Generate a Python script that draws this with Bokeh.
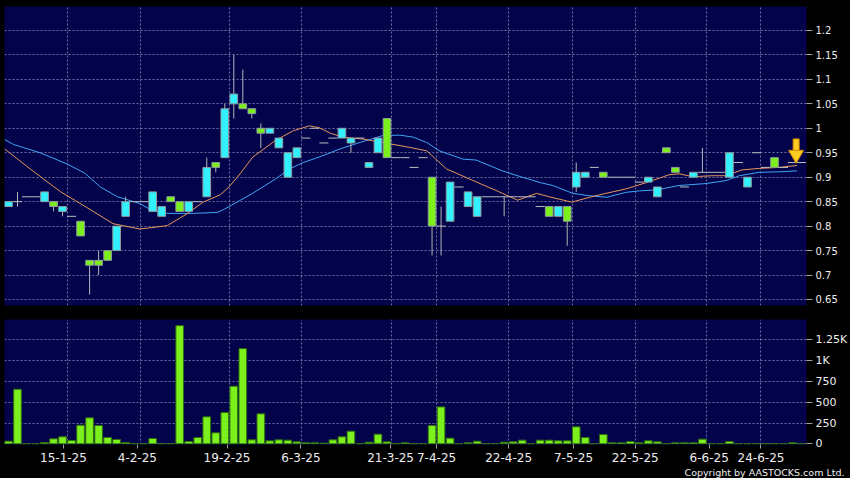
from bokeh.plotting import figure
from bokeh.layouts import column
from bokeh.models import (Range1d, FixedTicker, NumeralTickFormatter,
                          CustomJSTickFormatter, Title)
from bokeh.embed import file_html
from bokeh.resources import INLINE

# ---------------- data ----------------
opens = [0.84, 0.85, 0.86, 0.86, 0.85, 0.85, 0.83, 0.82, 0.81, 0.73,
         0.73, 0.75, 0.75, 0.82, 0.85, 0.85, 0.83, 0.82, 0.86, 0.85,
         0.83, 0.85, 0.86, 0.93, 0.94, 1.05, 1.05, 1.04, 1.00, 0.99,
         0.96, 0.90, 0.94, 0.98, 1.00, 0.97, 0.98, 0.98, 0.97, 0.98,
         0.92, 0.95, 1.02, 0.94, 0.94, 0.92, 0.94, 0.90, 0.80, 0.81,
         0.88, 0.84, 0.82, 0.86, 0.86, 0.86, 0.86, 0.86, 0.86, 0.84,
         0.84, 0.82, 0.84, 0.88, 0.90, 0.92, 0.91, 0.90, 0.90, 0.90,
         0.89, 0.89, 0.86, 0.96, 0.92, 0.88, 0.90, 0.91, 0.91, 0.91,
         0.90, 0.93, 0.88, 0.95, 0.92, 0.94, 0.92, 0.93, 0.93]
closes = [0.85, 0.85, 0.86, 0.86, 0.87, 0.84, 0.84, 0.82, 0.78, 0.72,
          0.72, 0.73, 0.80, 0.85, 0.85, 0.85, 0.87, 0.84, 0.85, 0.83,
          0.85, 0.85, 0.92, 0.92, 1.04, 1.07, 1.04, 1.03, 0.99, 1.00,
          0.98, 0.95, 0.96, 0.98, 1.00, 0.97, 0.98, 1.00, 0.98, 0.98,
          0.93, 0.98, 0.94, 0.94, 0.94, 0.92, 0.94, 0.80, 0.80, 0.89,
          0.88, 0.87, 0.86, 0.86, 0.86, 0.86, 0.86, 0.86, 0.86, 0.84,
          0.82, 0.84, 0.81, 0.91, 0.91, 0.92, 0.90, 0.90, 0.90, 0.90,
          0.89, 0.90, 0.88, 0.95, 0.91, 0.88, 0.91, 0.91, 0.91, 0.91,
          0.95, 0.93, 0.90, 0.95, 0.92, 0.92, 0.92, 0.93, 0.93]
highs = [0.85, 0.87, 0.86, 0.86, 0.87, 0.85, 0.84, 0.82, 0.81, 0.73,
         0.75, 0.75, 0.80, 0.86, 0.85, 0.85, 0.87, 0.84, 0.86, 0.85,
         0.85, 0.85, 0.94, 0.93, 1.05, 1.15, 1.12, 1.04, 1.01, 1.00,
         0.98, 0.95, 0.96, 0.98, 1.00, 0.97, 0.98, 1.00, 0.98, 0.98,
         0.93, 0.98, 1.02, 0.94, 0.94, 0.92, 0.94, 0.90, 0.84, 0.89,
         0.88, 0.87, 0.86, 0.86, 0.86, 0.86, 0.86, 0.86, 0.86, 0.84,
         0.84, 0.84, 0.84, 0.93, 0.91, 0.92, 0.91, 0.90, 0.90, 0.90,
         0.89, 0.90, 0.88, 0.96, 0.92, 0.88, 0.91, 0.96, 0.91, 0.91,
         0.95, 0.93, 0.90, 0.95, 0.92, 0.94, 0.92, 0.93, 0.93]
lows = [0.84, 0.84, 0.86, 0.86, 0.85, 0.83, 0.82, 0.82, 0.78, 0.66,
        0.70, 0.73, 0.75, 0.82, 0.85, 0.85, 0.83, 0.82, 0.85, 0.83,
        0.83, 0.85, 0.86, 0.91, 0.94, 1.02, 1.04, 1.02, 0.96, 0.99,
        0.96, 0.90, 0.94, 0.98, 1.00, 0.97, 0.98, 0.98, 0.95, 0.98,
        0.92, 0.95, 0.94, 0.94, 0.94, 0.92, 0.94, 0.74, 0.74, 0.81,
        0.88, 0.84, 0.82, 0.86, 0.86, 0.82, 0.86, 0.86, 0.86, 0.84,
        0.82, 0.82, 0.76, 0.87, 0.90, 0.92, 0.90, 0.90, 0.90, 0.90,
        0.89, 0.89, 0.86, 0.95, 0.91, 0.88, 0.90, 0.91, 0.91, 0.91,
        0.90, 0.93, 0.88, 0.95, 0.92, 0.92, 0.92, 0.93, 0.93]
volumes = [32, 656, 0, 0, 16, 60, 84, 40, 224, 312,
           220, 76, 52, 16, 0, 0, 64, 0, 0, 1420,
           28, 76, 324, 132, 376, 692, 1144, 48, 360, 36,
           48, 44, 24, 12, 12, 8, 48, 84, 152, 0,
           20, 116, 24, 0, 12, 0, 0, 220, 444, 68,
           0, 12, 32, 0, 0, 20, 24, 44, 0, 44,
           44, 36, 36, 204, 76, 0, 112, 12, 12, 28,
           12, 36, 24, 0, 12, 12, 12, 56, 0, 0,
           28, 0, 0, 0, 0, 0, 0, 12, 0]

# moving averages, read as vertices (day index, price)
ma_short_x = [-0.44, 2.4, 5.8, 8.7, 11.6, 14.6, 17.6, 19.8, 21.6, 23.5,
              24.4, 25.7, 27.1, 29.6, 31.6, 33.4, 34.5, 35.7, 37.1, 39.3,
              41.5, 44.5, 46.4, 48.6, 51.2, 54.2, 56.5, 58.6, 60.0, 62.5,
              64.5, 66.3, 68.5, 70.8, 73.3, 74.4, 75.9, 78.1, 79.6, 81.4,
              83.3, 85.5, 87.5]
ma_short_y = [0.958, 0.917, 0.870, 0.838, 0.805, 0.794, 0.801, 0.825, 0.849, 0.864,
              0.879, 0.907, 0.941, 0.975, 0.995, 1.005, 1.001, 0.990, 0.982, 0.978,
              0.971, 0.961, 0.954, 0.917, 0.896, 0.872, 0.853, 0.867, 0.860, 0.849,
              0.859, 0.867, 0.876, 0.889, 0.905, 0.907, 0.901, 0.903, 0.903, 0.915,
              0.918, 0.920, 0.924]
ma_long_x = [-0.44, 0.55, 3.5, 6.5, 8.5, 10.2, 12.1, 14.6, 16.0, 17.7,
             20.5, 23.2, 24.0, 27.0, 29.6, 31.2, 32.7, 34.6, 36.8, 39.0,
             41.5, 43.4, 44.9, 46.4, 47.8, 50.4, 51.9, 54.8, 57.0, 59.0,
             60.4, 62.6, 64.5, 66.4, 68.5, 70.0, 71.9, 74.4, 77.4, 79.6,
             81.1, 83.3, 85.5, 87.5]
ma_long_y = [0.977, 0.967, 0.950, 0.927, 0.908, 0.880, 0.860, 0.846, 0.831, 0.826,
             0.826, 0.828, 0.835, 0.866, 0.896, 0.917, 0.930, 0.942, 0.958, 0.971,
             0.985, 0.986, 0.982, 0.971, 0.954, 0.937, 0.935, 0.913, 0.900, 0.889,
             0.883, 0.867, 0.862, 0.859, 0.869, 0.872, 0.874, 0.883, 0.887, 0.893,
             0.903, 0.910, 0.911, 0.913]

date_labels = ["15-1-25", "4-2-25", "19-2-25", "6-3-25", "21-3-25", "7-4-25",
               "22-4-25", "7-5-25", "22-5-25", "6-6-25", "24-6-25"]
date_label_pos = [6.1, 14.3, 24.25, 32.45, 42.4, 47.5, 55.5, 62.7, 69.55, 77.75, 83.5]
date_grid_pos = [6.6, 14.6, 24.5, 32.55, 42.5, 47.5, 55.5, 62.6, 69.55, 77.5, 83.5]
price_ticks = [0.65, 0.7, 0.75, 0.8, 0.85, 0.9, 0.95, 1.0, 1.05, 1.1, 1.15, 1.2]
volume_ticks = [0, 250, 500, 750, 1000, 1250]
volume_labels = ["0", "250", "500", "750", "1K", "1.25K"]
copyright_text = "Copyright by AASTOCKS.com Ltd."

# ---------------- styles ----------------
BG = "#03034c"
GRID = "#6e6ea0"
TXT = "#eeeeee"
UP = "#33f0ff"
DOWN = "#7cf01c"

n = len(closes)
idx = list(range(n))
body_i = [i for i in idx if opens[i] != closes[i]]
body_top = [max(opens[i], closes[i]) for i in body_i]
body_bot = [min(opens[i], closes[i]) for i in body_i]
body_col = [UP if closes[i] > opens[i] else DOWN for i in body_i]
doji_i = [i for i in idx if opens[i] == closes[i]]
doji_y = [closes[i] for i in doji_i]
wick_i = [i for i in idx if highs[i] > lows[i]]
wick_lo = [lows[i] for i in wick_i]
wick_hi = [highs[i] for i in wick_i]

x_rng = Range1d(-0.443, 88.55)


def style(p):
    p.background_fill_color = BG
    p.border_fill_color = "black"
    p.outline_line_color = None
    for g in (p.xgrid, p.ygrid):
        g.grid_line_color = GRID
        g.grid_line_dash = "2 2"
        g.grid_line_width = 1
    p.xgrid.ticker = FixedTicker(ticks=date_grid_pos)


# ---------------- price panel ----------------
p1 = figure(width=850, height=312, x_range=x_rng, y_range=Range1d(0.6377, 1.249),
            x_axis_location=None, y_axis_location="right",
            output_backend="svg", toolbar_location=None,
            min_border_left=4, min_border_right=42, min_border_top=6, min_border_bottom=7)
style(p1)
ya = p1.yaxis[0]
ya.ticker = FixedTicker(ticks=price_ticks)
ya.formatter = NumeralTickFormatter(format="0.[00]")
ya.axis_line_color = None
ya.major_tick_line_color = "#a0a0a0"
ya.major_tick_out = 6
ya.major_tick_in = 0
ya.minor_tick_line_color = None
ya.major_label_standoff = 3
ya.major_label_text_color = TXT
ya.major_label_text_font = "DejaVu Sans"
ya.major_label_text_font_size = "10px"

p1.line(ma_long_x, ma_long_y, line_color="#3fa6f2", line_width=1)
p1.line(ma_short_x, ma_short_y, line_color="#e8955a", line_width=1)
p1.segment(x0=wick_i, y0=wick_lo, x1=wick_i, y1=wick_hi, line_color="#b4b4b4", line_width=1)
p1.vbar(x=body_i, width=0.85, top=body_top, bottom=body_bot, fill_color=body_col,
        line_color="#8e9c9c", line_width=1)
p1.scatter(doji_i, doji_y, marker="dash", size=9, line_color="#bdbdbd", line_width=1)

# last-price arrow
ax = idx[-1] - 0.6
p1.rect(x=[ax], y=[closes[-1] + 0.036], width=6, height=12, width_units="screen",
        height_units="screen", fill_color="#ffcc22", line_color="#d08a00")
p1.scatter([ax], [closes[-1] + 0.016], marker="inverted_triangle", size=15,
           fill_color="#ffcc22", line_color="#d08a00")

# ---------------- volume panel ----------------
p2 = figure(width=850, height=166, x_range=x_rng, y_range=Range1d(-8, 1494),
            x_axis_location="below", y_axis_location="right",
            output_backend="svg", toolbar_location=None,
            min_border_left=4, min_border_right=42, min_border_top=7, min_border_bottom=34)
style(p2)
va = p2.yaxis[0]
va.ticker = FixedTicker(ticks=volume_ticks)
va.major_label_overrides = {t: s for t, s in zip(volume_ticks, volume_labels)}
va.axis_line_color = None
va.major_tick_line_color = "#a0a0a0"
va.major_tick_out = 6
va.major_tick_in = 0
va.minor_tick_line_color = None
va.major_label_standoff = 3
va.major_label_text_color = TXT
va.major_label_text_font = "DejaVu Sans"
va.major_label_text_font_size = "11px"

xa = p2.xaxis[0]
xa.ticker = FixedTicker(ticks=date_label_pos)
xa.formatter = CustomJSTickFormatter(args=dict(pos=date_label_pos, labels=date_labels), code="""
    let best = 0, d = 1e9;
    for (let k = 0; k < pos.length; k++) {
        const e = Math.abs(pos[k] - tick);
        if (e < d) { d = e; best = k; }
    }
    return labels[best];
""")
xa.axis_line_color = None
xa.major_tick_line_color = "#a0a0a0"
xa.major_tick_out = 4
xa.major_tick_in = 0
xa.minor_tick_line_color = None
xa.major_label_standoff = 4
xa.major_label_text_color = TXT
xa.major_label_text_font = "DejaVu Sans"
xa.major_label_text_font_size = "12px"

p2.vbar(x=idx, width=0.85, top=volumes, bottom=0, fill_color=DOWN,
        line_color="#2f6f0f", line_width=1)

# copyright note as a title below the date axis, pushed right under the value axis
p2.add_layout(Title(text=copyright_text, align="right", offset=-38, standoff=0,
                    text_color=TXT, text_font="DejaVu Sans", text_font_style="normal",
                    text_font_size="9.5px"), "below")

layout = column(p1, p2, spacing=0)
layout.styles = {"background-color": "black"}
open("out.html", "w").write(file_html(layout, INLINE))
